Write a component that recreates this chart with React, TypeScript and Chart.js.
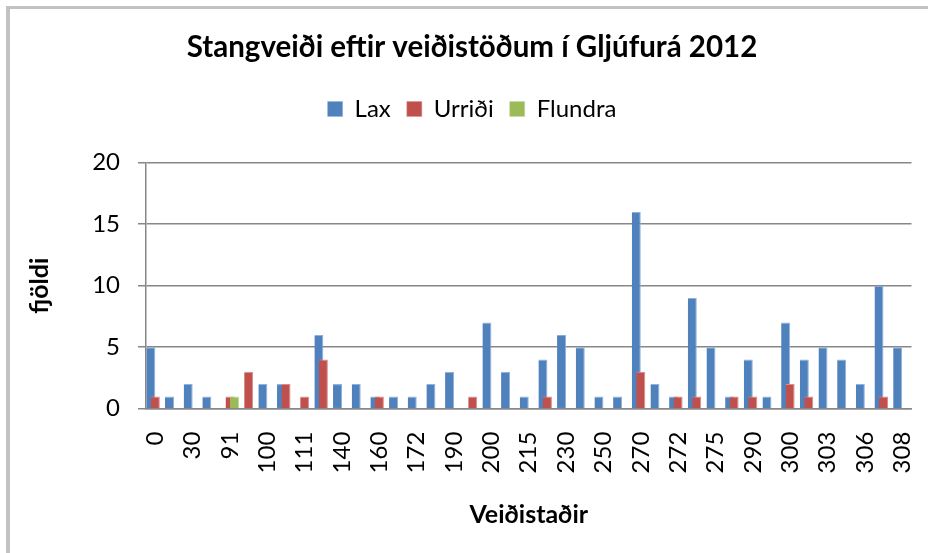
import React, { useEffect, useRef } from "react";
import { Chart, registerables } from "chart.js";

Chart.register(...registerables);

const chartTitle = "Stangveiði eftir veiðistöðum í Gljúfurá 2012";
const xTitle = "Veiðistaðir";
const yTitle = "fjöldi";

const categories = [
  "0", "20", "30", "90", "91", "92", "100", "110", "111", "130",
  "140", "150", "160", "170", "172", "180", "190", "195", "200", "210",
  "215", "220", "230", "240", "250", "260", "270", "271", "272", "273",
  "275", "280", "290", "295", "300", "301", "303", "305", "306", "307",
  "308",
];

const seriesNames = ["Lax", "Urriði", "Flundra"];

const lax = [
  5, 1, 2, 1, 0, 0, 2, 2, 0, 6,
  2, 2, 1, 1, 1, 2, 3, 0, 7, 3,
  1, 4, 6, 5, 1, 1, 16, 2, 1, 9,
  5, 1, 4, 1, 7, 4, 5, 4, 2, 10,
  5,
];

const urridi = [
  1, 0, 0, 0, 1, 3, 0, 2, 1, 4,
  0, 0, 1, 0, 0, 0, 0, 1, 0, 0,
  0, 1, 0, 0, 0, 0, 3, 0, 1, 1,
  0, 1, 1, 0, 2, 1, 0, 0, 0, 1,
  0,
];

const flundra = [
  0, 0, 0, 0, 1, 0, 0, 0, 0, 0,
  0, 0, 0, 0, 0, 0, 0, 0, 0, 0,
  0, 0, 0, 0, 0, 0, 0, 0, 0, 0,
  0, 0, 0, 0, 0, 0, 0, 0, 0, 0,
  0,
];

const yTicks = [0, 5, 10, 15, 20];

const colors = ["#4F81BD", "#C0504D", "#9BBB59"];
const edgeColors = ["#8FB2DD", "#DA8C8A", "#C2D89A"];
const GRID = "#878787";
const FONT = "Lato, 'Open Sans', sans-serif";

const orderPlugin = {
  id: "seriesOrder",
  beforeDatasetDraw() {
    return false;
  },
  afterDatasetsDraw(chart: any) {
    for (let i = 0; i < chart.data.datasets.length; i++) {
      const meta = chart.getDatasetMeta(i);
      if (chart.isDatasetVisible(i)) meta.controller.draw();
    }
  },
};

export default function App() {
  const ref = useRef<HTMLCanvasElement | null>(null);

  useEffect(() => {
    if (!ref.current) return;
    const values = [lax, urridi, flundra];
    const chart = new Chart(ref.current, {
      type: "bar",
      data: {
        labels: categories,
        datasets: values.map((v, i) => ({
          label: seriesNames[i],
          data: v,
          backgroundColor: colors[i],
          borderColor: edgeColors[i],
          borderWidth: { top: 1, right: 1, left: 0, bottom: 0 },
          borderSkipped: false,
          barPercentage: 2,
          categoryPercentage: 0.723,
          xAxisID: "x",
          yAxisID: "y",
        })),
      },
      plugins: [orderPlugin],
      options: {
        responsive: false,
        animation: false,
        events: [],
        layout: { padding: { left: 16, right: 0, top: 0, bottom: 0 } },
        plugins: {
          title: {
            display: true,
            text: chartTitle,
            color: "#000",
            font: { family: FONT, size: 29.5, weight: "bold" },
            padding: { top: 29.3, bottom: 16.3 },
          },
          legend: {
            display: true,
            position: "top",
            labels: {
              boxWidth: 15,
              boxHeight: 15,
              padding: 16,
              color: "#000",
              font: { family: FONT, size: 24 },
            },
          },
          tooltip: { enabled: false },
        },
        scales: {
          x: {
            type: "category",
            position: "bottom",
            offset: true,
            grid: { display: false, drawTicks: true, tickLength: 20 },
            border: { display: true, color: GRID, width: 1.5 },
            ticks: {
              autoSkip: false,
              minRotation: 90,
              maxRotation: 90,
              padding: 3,
              color: "#000",
              font: { family: FONT, size: 24 },
              callback: (_v: any, i: number) => (i % 2 === 0 ? categories[i] : ""),
            },
            title: {
              display: true,
              text: xTitle,
              color: "#000",
              font: { family: FONT, size: 25, weight: "bold" },
              padding: { top: 0, bottom: 23 },
            },
            afterFit: (s: any) => {
              s.height = 144.3;
              s.paddingLeft = 0;
              s.paddingRight = 0;
            },
          },
          y: {
            type: "linear",
            position: "left",
            min: yTicks[0],
            max: yTicks[yTicks.length - 1],
            afterBuildTicks: (s: any) => {
              s.ticks = yTicks.map((v) => ({ value: v }));
            },
            ticks: {
              padding: 18,
              color: "#000",
              font: { family: FONT, size: 24 },
            },
            grid: { color: GRID, lineWidth: 1.5, tickLength: 8, drawTicks: true },
            border: { display: true, color: GRID, width: 1.5 },
            title: {
              display: true,
              text: yTitle,
              color: "#000",
              font: { family: FONT, size: 25, weight: "bold" },
              padding: { top: 9, bottom: 0 },
            },
            afterFit: (s: any) => {
              s.width = 130;
            },
          },
          xTop: {
            type: "category",
            position: "top",
            display: true,
            grid: { display: false },
            border: { display: false },
            ticks: { display: false },
            afterFit: (s: any) => {
              s.height = 31.7;
            },
          },
          yRight: {
            type: "linear",
            position: "right",
            display: true,
            grid: { display: false },
            border: { display: false },
            ticks: { display: false },
            afterFit: (s: any) => {
              s.width = 16.5;
            },
          },
        },
      } as any,
    });
    return () => chart.destroy();
  }, []);

  return (
    <div
      style={{
        position: "fixed",
        left: 0,
        top: 0,
        width: 928,
        height: 553,
        background: "#fff",
        overflow: "hidden",
      }}
    >
      <div
        style={{
          position: "absolute",
          left: 6,
          top: 6,
          width: 1000,
          height: 1000,
          borderLeft: "4px solid #c2c2c2",
          borderTop: "3px solid #c2c2c2",
        }}
      />
      <canvas
        ref={ref}
        width={928}
        height={553}
        style={{ position: "absolute", left: 0, top: 0, width: 928, height: 553 }}
      />
    </div>
  );
}
